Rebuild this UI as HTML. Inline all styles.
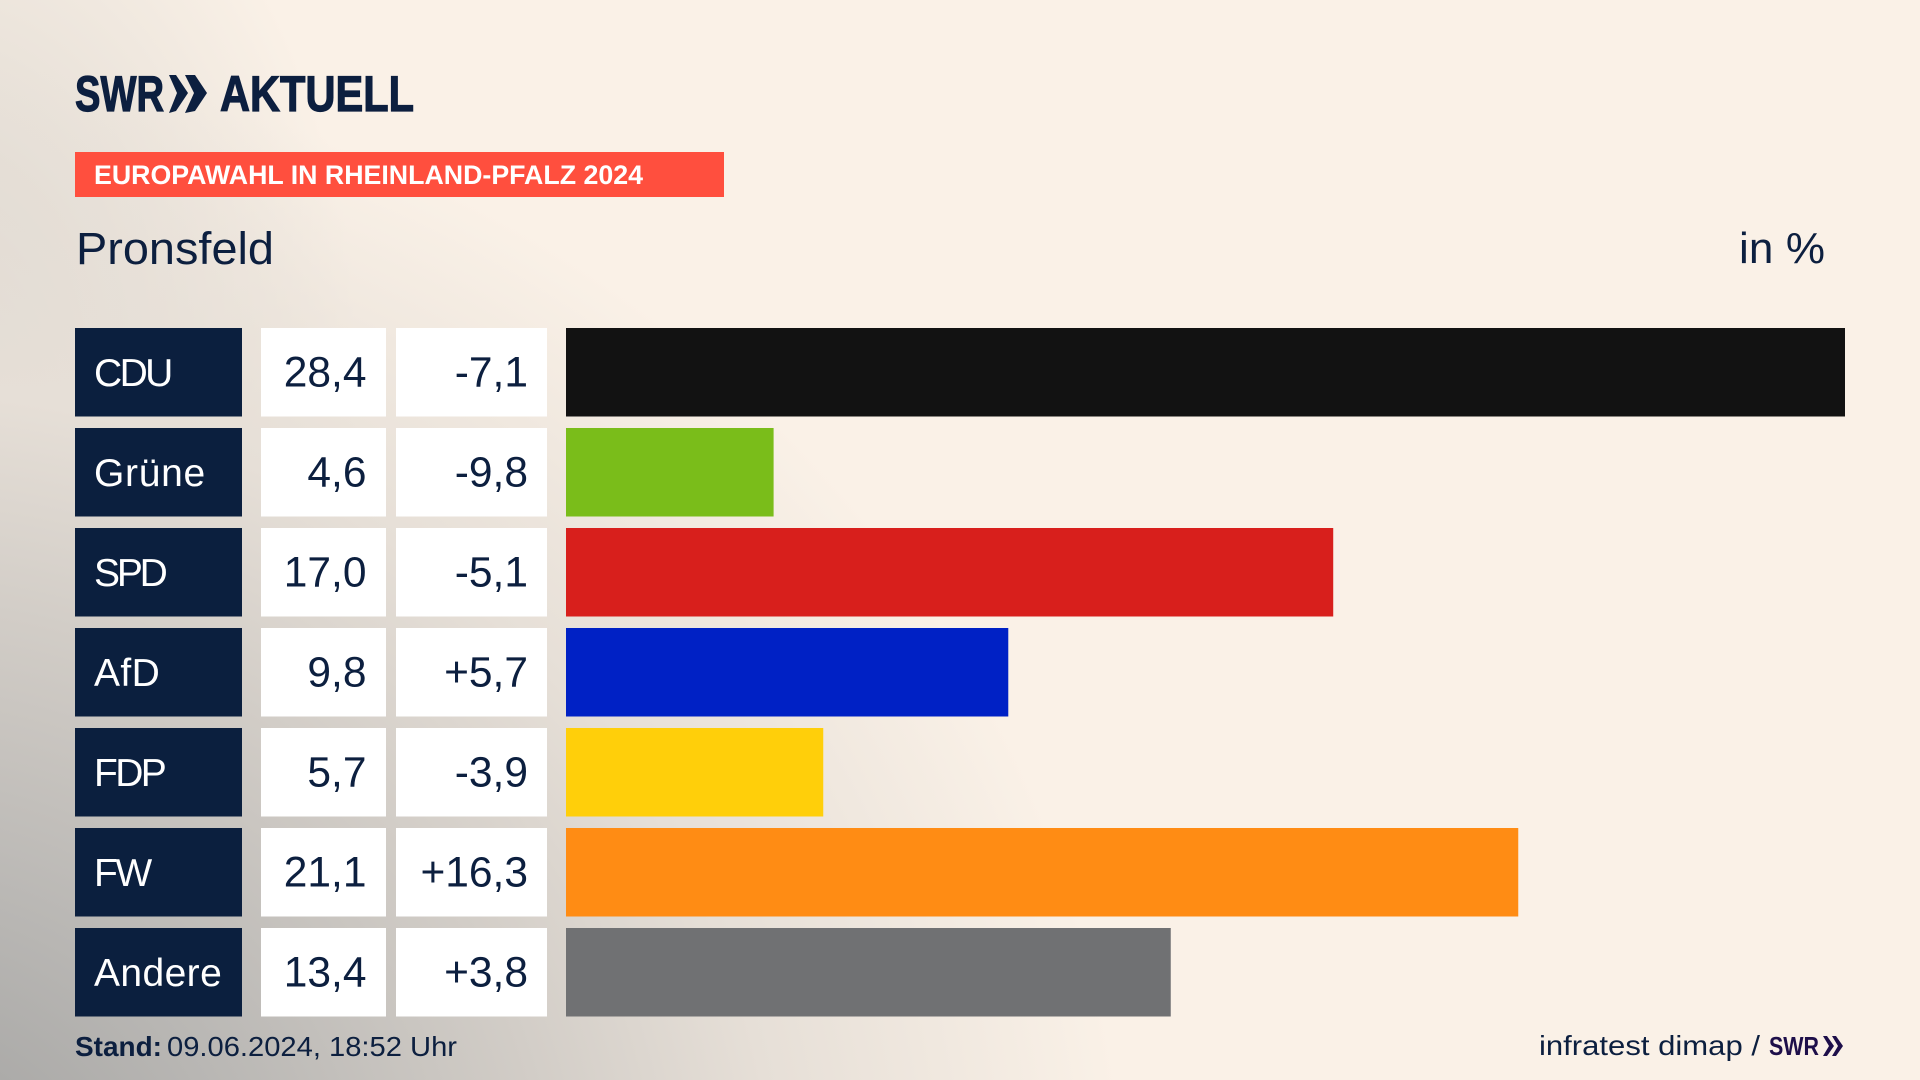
<!DOCTYPE html>
<html lang="de">
<head>
<meta charset="utf-8">
<title>Europawahl in Rheinland-Pfalz 2024 – Pronsfeld</title>
<style>
html,body{margin:0;padding:0;width:1920px;height:1080px;overflow:hidden}
body{background:#faf1e7;font-family:"Liberation Sans",sans-serif;position:relative}
#bg{position:absolute;left:0;top:0;width:1920px;height:1080px;background:
radial-gradient(ellipse 1250px 1180px at -120px 1240px,#9c9c9b 0%,#b9b7b4 30%,#d2cdc7 54%,#e6dfd7 72%,rgba(250,241,231,0) 100%),
radial-gradient(ellipse 420px 620px at -60px 380px,#d8d3cc 0%,rgba(250,241,231,0) 100%)}
svg{position:absolute;left:0;top:0}
text{font-family:"Liberation Sans",sans-serif;fill:#0c1f3f}
.label{fill:#fff;font-size:39px}
.num{font-size:42.5px;text-anchor:end}
.heavy{stroke:#0c1f3f;stroke-width:1.2px}
.label-cdu{letter-spacing:-2.6px}.label-gruene{letter-spacing:.7px}.label-spd{letter-spacing:-3.2px}
.label-afd{letter-spacing:.4px}.label-fdp{letter-spacing:-2.6px}.label-fw{letter-spacing:-2.4px}.label-andere{letter-spacing:.4px}
.party-0{fill:#121212}.party-1{fill:#7abd1a}.party-2{fill:#d81f1c}.party-3{fill:#0021c5}
.party-4{fill:#ffcf0a}.party-5{fill:#ff8c14}.party-6{fill:#707173}
</style>
</head>
<body>
<div id="bg"></div>
<svg id="chart" width="1920" height="1080" viewBox="0 0 1920 1080" xmlns="http://www.w3.org/2000/svg">
  <g>
    <text class="heavy" x="75" y="111" font-size="50" font-weight="700" textLength="89" lengthAdjust="spacingAndGlyphs">SWR</text>
    <polygon points="169,75 176,75 188,93 176,111 169,113 177,93" fill="#0c1f3f"/>
    <polygon points="185,75 195,75 207,93 195,111 185,113 194,93" fill="#0c1f3f"/>
    <text class="heavy" x="220" y="111" font-size="50" font-weight="700" textLength="194" lengthAdjust="spacingAndGlyphs">AKTUELL</text>
  </g>
  <rect x="75" y="152" width="649" height="45" fill="#ff4f3e"/>
  <text x="94" y="184" font-size="27" font-weight="700" style="fill:#fff" textLength="549" lengthAdjust="spacingAndGlyphs">EUROPAWAHL IN RHEINLAND-PFALZ 2024</text>
  <text x="76" y="264" font-size="45" textLength="198" lengthAdjust="spacingAndGlyphs">Pronsfeld</text>
  <text x="1739" y="263" font-size="44" textLength="86" lengthAdjust="spacing">in %</text>
  <g id="rows"></g>
  <text x="75" y="1056" font-size="28" font-weight="700" textLength="87" lengthAdjust="spacingAndGlyphs">Stand:</text>
  <text x="167" y="1056" font-size="28" textLength="290" lengthAdjust="spacingAndGlyphs">09.06.2024, 18:52 Uhr</text>
  <text x="1539" y="1055" font-size="28" textLength="221" lengthAdjust="spacingAndGlyphs">infratest dimap /</text>
  <g>
    <text x="1769" y="1055" font-size="26" font-weight="700" style="fill:#1e0f4a" textLength="50" lengthAdjust="spacingAndGlyphs">SWR</text>
    <polygon points="1823,1036 1827,1036 1834,1046 1827,1056 1823,1056 1829,1046" fill="#1e0f4a"/>
    <polygon points="1832,1036 1836,1036 1843,1046 1836,1056 1832,1056 1838,1046" fill="#1e0f4a"/>
  </g>
</svg>
<script>
const categories = ["CDU", "Grüne", "SPD", "AfD", "FDP", "FW", "Andere"];
const shareValues = [28.4, 4.6, 17.0, 9.8, 5.7, 21.1, 13.4];
const changeValues = [-7.1, -9.8, -5.1, 5.7, -3.9, 16.3, 3.8];

const NS = "http://www.w3.org/2000/svg";
const rowsGroup = document.getElementById("rows");
const barLeft = 566;
const barMaxWidth = 1279;
const domainMax = Math.max.apply(null, shareValues) - 0.06;
function xScale(v) { return Math.min(v / domainMax * barMaxWidth, barMaxWidth); }
function yScale(i) { return 328 + i * 100; }
const rowHeight = 88.5;
function formatShare(v) { return v.toFixed(1).replace(".", ","); }
function formatChange(v) { return (v > 0 ? "+" : "") + v.toFixed(1).replace(".", ","); }
function rect(x, y, w, h, fill) {
  const r = document.createElementNS(NS, "rect");
  r.setAttribute("x", x);
  r.setAttribute("y", y);
  r.setAttribute("width", w);
  r.setAttribute("height", h);
  if (fill) r.setAttribute("fill", fill);
  rowsGroup.appendChild(r);
  return r;
}
function label(x, y, cls, str) {
  const t = document.createElementNS(NS, "text");
  t.setAttribute("x", x);
  t.setAttribute("y", y);
  t.setAttribute("class", cls);
  t.textContent = str;
  rowsGroup.appendChild(t);
  return t;
}
categories.forEach(function (name, i) {
  const y = yScale(i);
  const key = name.toLowerCase().replace("ü", "ue");
  const nameBox = rect(75, y, 167, rowHeight, "#0b1f3e");
  
  
  const nameText = label(94, y + 58, "label label-" + key, name);
  
  
  const shareBox = rect(261, y, 125, rowHeight, "#fff");
  
  
  const shareText = label(366.5, y + 58.5, "num", formatShare(shareValues[i]));
  
  
  const changeBox = rect(396, y, 151, rowHeight, "#fff");
  
  
  const changeText = label(528, y + 58.5, "num", formatChange(changeValues[i]));
  
  
  const bar = rect(barLeft, y, xScale(shareValues[i]), rowHeight);
  bar.setAttribute("class", "party-" + i);
  
  
});
</script>
</body>
</html>
